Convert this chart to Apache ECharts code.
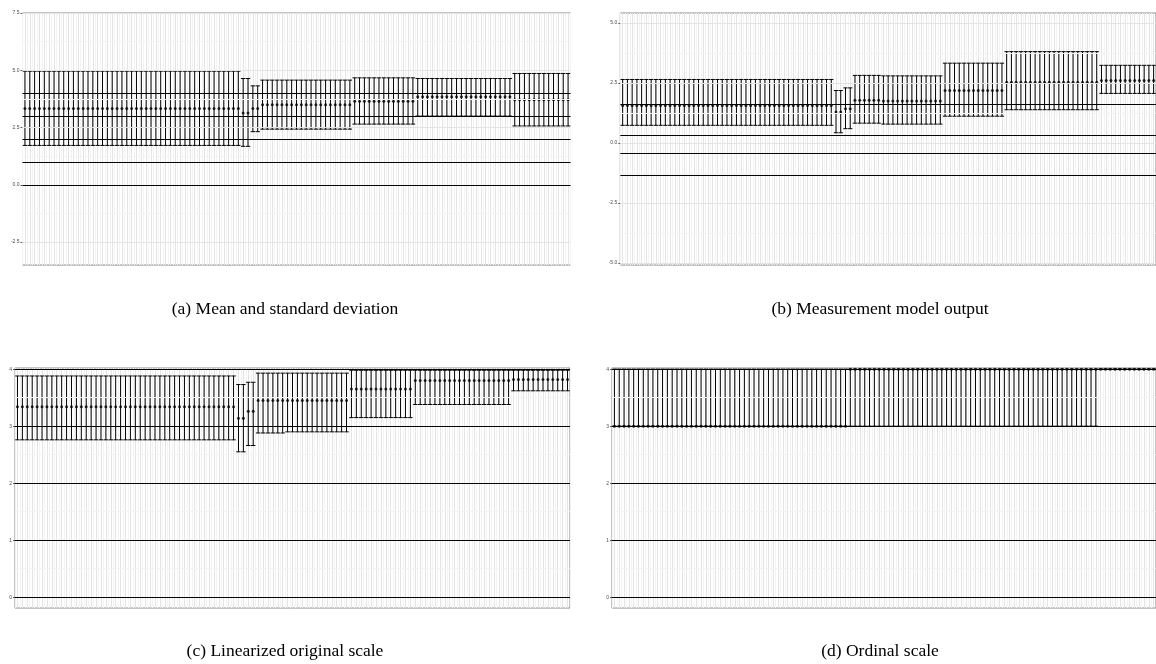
<!DOCTYPE html>
<html>
<head>
<meta charset="utf-8">
<script src="https://cdn.jsdelivr.net/npm/echarts@6/dist/echarts.min.js"></script>
<style>
html,body{margin:0;padding:0;background:#fff;}
#chart{width:1156px;height:664px;}
</style>
</head>
<body>
<div id="chart"></div>
<script>
// ---------- data ----------
const N = 113;
// Panel (a) Mean and standard deviation (runs of identical points)
const aCounts = [45, 2, 2, 19, 13, 20, 12];
const aMean   = [3.33, 3.14, 3.33, 3.49, 3.65, 3.84, 3.71];
const aLow    = [1.72, 1.68, 2.32, 2.43, 2.65, 3.00, 2.57];
const aHigh   = [4.96, 4.64, 4.32, 4.57, 4.67, 4.64, 4.86];
const aLines  = [0, 1, 2, 3, 4];
const aTicks  = [-2.5, 0, 2.5, 5, 7.5];
const aMinor  = [-1.25, 1.25, 3.75, 6.25];

// Panel (b) Measurement model output
const bCounts = [45, 2, 2, 6, 13, 13, 20, 12];
const bMean   = [1.57, 1.29, 1.43, 1.78, 1.75, 2.19, 2.53, 2.61];
const bLow    = [0.74, 0.43, 0.60, 0.83, 0.79, 1.12, 1.39, 2.07];
const bHigh   = [2.65, 2.19, 2.30, 2.82, 2.80, 3.33, 3.81, 3.24];
const bLines  = [1.62, 0.31, -0.43, -1.36];
const bTicks  = [-5, -2.5, 0, 2.5, 5];
const bMinor  = [-3.75, -1.25, 1.25, 3.75];

// Panel (c) Linearized original scale
const cCounts = [45, 2, 2, 6, 13, 13, 20, 12];
const cMean   = [3.34, 3.14, 3.26, 3.45, 3.45, 3.65, 3.80, 3.82];
const cLow    = [2.76, 2.55, 2.66, 2.88, 2.90, 3.15, 3.38, 3.62];
const cHigh   = [3.88, 3.73, 3.77, 3.93, 3.93, 3.98, 3.98, 3.98];
const cLines  = [0, 1, 2, 3, 4];
const cTicks  = [0, 1, 2, 3, 4];
const cMinor  = [0.5, 1.5, 2.5, 3.5];

// Panel (d) Ordinal scale
const dCounts = [49, 52, 12];
const dMean   = [3, 4, 4];
const dLow    = [3, 3, 4];
const dHigh   = [4, 4, 4];
const dLines  = [0, 1, 2, 3, 4];
const dTicks  = [0, 1, 2, 3, 4];
const dMinor  = [0.5, 1.5, 2.5, 3.5];

const captions = ['(a) Mean and standard deviation', '(b) Measurement model output',
                  '(c) Linearized original scale', '(d) Ordinal scale'];

// ---------- build ----------
function expand(counts, vals) {
  const out = [];
  counts.forEach((c, k) => { for (let j = 0; j < c; j++) out.push(vals[k]); });
  return out;
}

const panels = [
  {counts:aCounts, mean:aMean, low:aLow, high:aHigh, lines:aLines, ticks:aTicks, minor:aMinor,
   ymin:-3.5, ymax:7.5, grid:{left:22.5, top:13, width:548, height:252}, dec:1},
  {counts:bCounts, mean:bMean, low:bLow, high:bHigh, lines:bLines, ticks:bTicks, minor:bMinor,
   ymin:-5.08, ymax:5.42, grid:{left:620.3, top:13, width:545.5, height:252}, dec:1},
  {counts:cCounts, mean:cMean, low:cLow, high:cHigh, lines:cLines, ticks:cTicks, minor:cMinor,
   ymin:-0.19, ymax:4.02, grid:{left:15, top:368, width:555, height:240}, dec:0},
  {counts:dCounts, mean:dMean, low:dLow, high:dHigh, lines:dLines, ticks:dTicks, minor:dMinor,
   ymin:-0.19, ymax:4.02, grid:{left:612, top:368, width:555, height:240}, dec:0}
];

const grids = [], xAxes = [], yAxes = [], series = [];
const capPos = [[285, 300], [880, 300], [285, 642], [880, 642]];

panels.forEach((p, k) => {
  grids.push(Object.assign({show:true, borderColor:'#8a8a8a', borderWidth:1, backgroundColor:'#fff'}, p.grid));
  xAxes.push({
    type:'value', gridIndex:k, min:0.5, max:N + 0.5, interval:0.5,
    axisLabel:{show:false}, axisTick:{show:false}, axisLine:{show:false},
    splitLine:{show:true, lineStyle:{color:['#f3f3f3', '#e4e4e4'], width:1}}
  });
  yAxes.push({
    type:'value', gridIndex:k, min:p.ymin, max:p.ymax,
    axisLine:{show:false},
    axisTick:{show:true, length:2, lineStyle:{color:'#333', width:0.8}, customValues:p.ticks},
    axisLabel:{show:true, fontSize:5, color:'#4d4d4d', margin:3, fontFamily:'Liberation Sans',
      customValues:p.ticks, formatter:v => Number(v).toFixed(p.dec)},
    splitLine:{show:false}
  });
  const mean = expand(p.counts, p.mean), low = expand(p.counts, p.low), high = expand(p.counts, p.high);
  const ebData = [], ptData = [];
  for (let i = 0; i < mean.length; i++) {
    ebData.push([i + 1, low[i], high[i]]);
    ptData.push([i + 1, mean[i]]);
  }
  // gridlines (horizontal)
  series.push({
    type:'line', xAxisIndex:k, yAxisIndex:k, data:[], z:1, silent:true,
    markLine:{silent:true, symbol:'none', animation:false, label:{show:false},
      emphasis:{disabled:true},
      data: p.ticks.map(v => ({yAxis:v, lineStyle:{color:'#e4e4e4', width:1, type:'solid'}}))
        .concat(p.minor.map(v => ({yAxis:v, lineStyle:{color:'#f3f3f3', width:1, type:'solid'}})))}
  });
  // error bars
  series.push({
    type:'custom', xAxisIndex:k, yAxisIndex:k, data:ebData, z:3, silent:true, animation:false,
    renderItem:(params, api) => {
      const x = api.value(0), lo = api.value(1), hi = api.value(2);
      const a = api.coord([x, lo]), b = api.coord([x, hi]);
      const half = api.size([0.9, 0])[0] / 2;
      const st = {stroke:'#000', lineWidth:1};
      return {type:'group', children:[
        {type:'line', shape:{x1:a[0], y1:a[1], x2:b[0], y2:b[1]}, style:st},
        {type:'line', shape:{x1:a[0]-half, y1:a[1], x2:a[0]+half, y2:a[1]}, style:st},
        {type:'line', shape:{x1:b[0]-half, y1:b[1], x2:b[0]+half, y2:b[1]}, style:st}
      ]};
    },
    markLine:{silent:true, symbol:'none', animation:false, label:{show:false},
      emphasis:{disabled:true},
      lineStyle:{color:'#000', width:1.1, type:'solid'},
      data:p.lines.map(v => ({yAxis:v}))}
  });
  // points
  series.push({
    type:'scatter', xAxisIndex:k, yAxisIndex:k, data:ptData, z:4, silent:true, animation:false,
    symbol:'circle', symbolSize:3, itemStyle:{color:'#000'}
  });
});

const chart = echarts.init(document.getElementById('chart'), null, {renderer:'canvas'});
chart.setOption({
  backgroundColor:'#fff',
  animation:false,
  grid:grids, xAxis:xAxes, yAxis:yAxes, series:series,
  graphic:captions.map((t, k) => ({
    type:'text', x:capPos[k][0], y:capPos[k][1], silent:true,
    style:{text:t, fill:'#000', font:'17.5px "Liberation Serif"', textAlign:'center', textVerticalAlign:'top'}
  }))
});
</script>
</body>
</html>
